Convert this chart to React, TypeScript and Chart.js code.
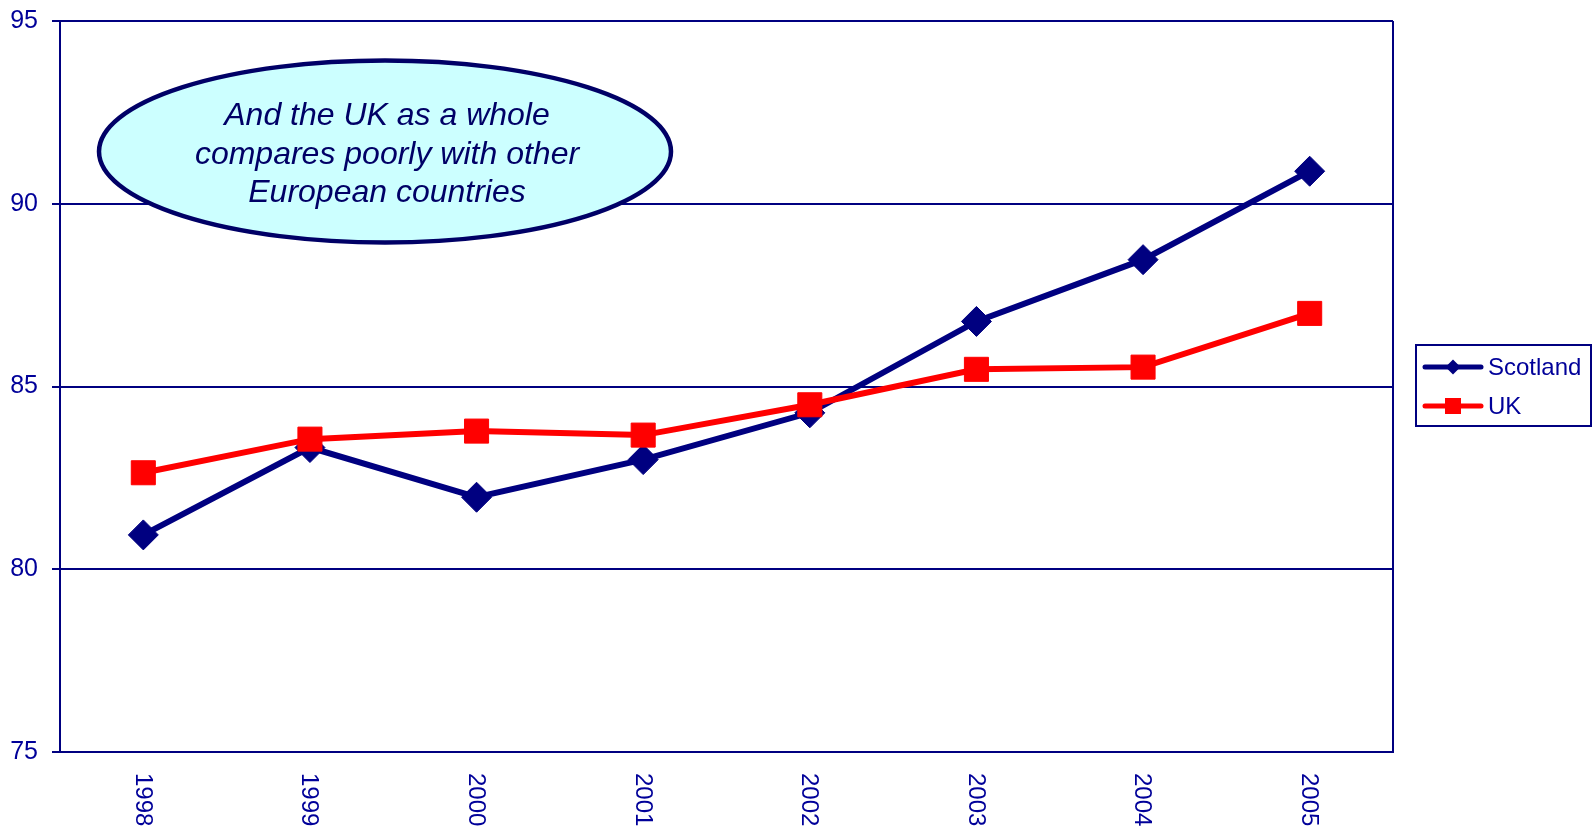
import React, { useEffect, useRef } from "react";
import { Chart, registerables } from "chart.js";

Chart.register(...registerables);

const years = ["1998", "1999", "2000", "2001", "2002", "2003", "2004", "2005"];
const scotland = [80.94, 83.33, 81.97, 83.0, 84.28, 86.78, 88.47, 90.89];
const uk = [82.64, 83.56, 83.78, 83.67, 84.5, 85.47, 85.53, 87.0];
const yMin = 75;
const yMax = 95;
const yStep = 5;
const calloutLines = ["And the UK as a whole", "compares poorly with other", "European countries"];
const seriesNames = ["Scotland", "UK"];

const NAVY = "#000080";
const LABEL = "#000099";
const RED = "#FF0000";
const FONT = '"Liberation Sans", Arial, sans-serif';

const overlayPlugin = {
  id: "overlay",
  beforeDatasetsDraw(chart: any) {
    const { ctx, chartArea } = chart;
    ctx.save();
    ctx.strokeStyle = NAVY;
    ctx.lineWidth = 2;
    ctx.beginPath();
    ctx.moveTo(chartArea.right, chartArea.top);
    ctx.lineTo(chartArea.right, chartArea.bottom);
    ctx.stroke();
    ctx.restore();
  },
  afterDraw(chart: any) {
    const { ctx, chartArea } = chart;
    const xs = chart.scales.x;
    ctx.save();
    // rotated x labels (top-to-bottom)
    ctx.fillStyle = LABEL;
    ctx.font = `24px ${FONT}`;
    ctx.textAlign = "left";
    ctx.textBaseline = "middle";
    years.forEach((y, i) => {
      const x = xs.getPixelForValue(i);
      ctx.save();
      ctx.translate(x - 1, chartArea.bottom + 21);
      ctx.rotate(Math.PI / 2);
      ctx.fillText(y, 0, 0);
      ctx.restore();
    });

    // callout ellipse
    ctx.beginPath();
    ctx.ellipse(385, 151.5, 286, 91, 0, 0, Math.PI * 2);
    ctx.fillStyle = "#CCFFFF";
    ctx.fill();
    ctx.lineWidth = 4.5;
    ctx.strokeStyle = "#000066";
    ctx.stroke();
    ctx.fillStyle = "#000066";
    ctx.font = `italic 32px ${FONT}`;
    ctx.textAlign = "center";
    ctx.textBaseline = "alphabetic";
    calloutLines.forEach((t, i) => {
      ctx.fillText(t, 387, 125 + i * 38.5);
    });

    // legend
    ctx.lineWidth = 2;
    ctx.strokeStyle = NAVY;
    ctx.strokeRect(1416, 345, 175, 81);
    const rows = [
      { name: seriesNames[0], color: NAVY, y: 367, shape: "diamond" },
      { name: seriesNames[1], color: RED, y: 406, shape: "square" },
    ];
    rows.forEach((r) => {
      ctx.strokeStyle = r.color;
      ctx.lineWidth = 5;
      ctx.lineCap = "round";
      ctx.beginPath();
      ctx.moveTo(1425, r.y);
      ctx.lineTo(1481, r.y);
      ctx.stroke();
      ctx.fillStyle = r.color;
      ctx.beginPath();
      if (r.shape === "diamond") {
        ctx.moveTo(1453, r.y - 7.5);
        ctx.lineTo(1460.5, r.y);
        ctx.lineTo(1453, r.y + 7.5);
        ctx.lineTo(1445.5, r.y);
        ctx.closePath();
        ctx.fill();
      } else {
        ctx.fillRect(1445, r.y - 8, 16, 16);
      }
      ctx.fillStyle = LABEL;
      ctx.font = `24px ${FONT}`;
      ctx.textAlign = "left";
      ctx.textBaseline = "middle";
      ctx.fillText(r.name, 1488, r.y + 1);
    });
    ctx.restore();
  },
};

export default function App() {
  const ref = useRef<HTMLCanvasElement>(null);
  useEffect(() => {
    document.body.style.margin = "0";
    const chart = new Chart(ref.current as HTMLCanvasElement, {
      type: "line",
      data: {
        labels: years,
        datasets: [
          {
            label: seriesNames[0],
            data: scotland,
            borderColor: NAVY,
            backgroundColor: NAVY,
            borderWidth: 6,
            pointStyle: "rectRot",
            pointRadius: 15,
            pointBackgroundColor: NAVY,
            pointBorderColor: NAVY,
            pointBorderWidth: 1,
            tension: 0,
            order: 1,
          },
          {
            label: seriesNames[1],
            data: uk,
            borderColor: RED,
            backgroundColor: RED,
            borderWidth: 6,
            pointStyle: "rect",
            pointRadius: 17,
            pointBackgroundColor: RED,
            pointBorderColor: RED,
            pointBorderWidth: 1,
            tension: 0,
            order: 0,
          },
        ],
      },
      options: {
        responsive: false,
        animation: false,
        devicePixelRatio: 1,
        layout: { padding: { top: 21, right: 201, bottom: 0, left: 0 } },
        plugins: { legend: { display: false }, tooltip: { enabled: false } },
        scales: {
          x: {
            type: "category",
            offset: true,
            grid: { display: false },
            border: { display: true, color: NAVY, width: 2 },
            ticks: { display: false },
            afterFit: (s: any) => {
              s.height = 76;
            },
          },
          y: {
            min: yMin,
            max: yMax,
            grid: { color: NAVY, lineWidth: 2, tickLength: 8, drawTicks: true },
            border: { display: true, color: NAVY, width: 2 },
            ticks: {
              stepSize: yStep,
              color: LABEL,
              padding: 14,
              font: { size: 25, family: FONT, lineHeight: 0.5 },
            },
            afterFit: (s: any) => {
              s.width = 60;
              s.paddingTop = 0;
              s.paddingBottom = 0;
            },
          },
        },
      },
      plugins: [overlayPlugin],
    });
    return () => chart.destroy();
  }, []);
  return (
    <div style={{ position: "fixed", left: 0, top: 0, width: 1594, height: 828, background: "#fff" }}>
      <canvas ref={ref} width={1594} height={828} style={{ width: 1594, height: 828 }} />
    </div>
  );
}
